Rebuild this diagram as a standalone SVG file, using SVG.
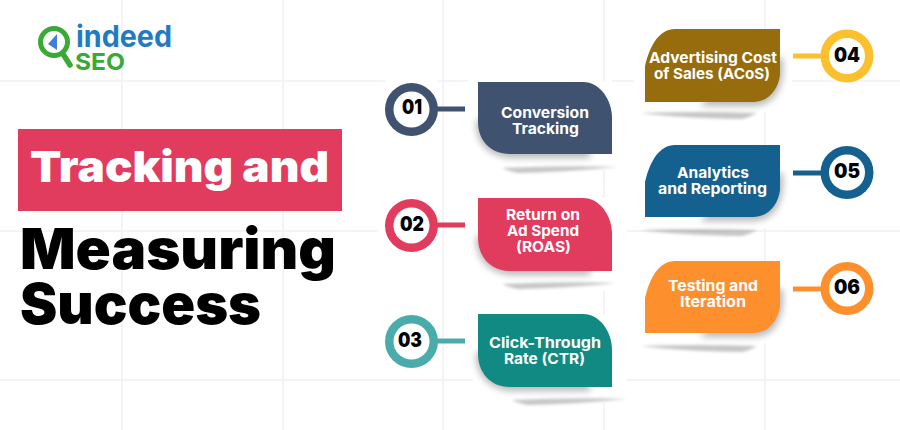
<svg xmlns="http://www.w3.org/2000/svg" width="900" height="430" viewBox="0 0 900 430">
<style>
.grid{stroke:#f1f1f3;stroke-width:1.5;fill:none}
.lbl{font-family:Inter,"Open Sans",sans-serif;font-weight:700;font-size:15px;fill:#fff}
.num{font-family:Inter,"Open Sans",sans-serif;font-weight:900;font-size:20px;fill:#000}
.title{font-family:Inter,"Open Sans",sans-serif;font-weight:900}
.dot{fill:#fff}
.conn{stroke-width:5;fill:none}
.sh{fill:#777;opacity:.42;filter:url(#b)}
.sh2{fill:#000;opacity:.28;filter:url(#b2)}
</style>
<defs>
<filter id="b" x="-20%" y="-200%" width="140%" height="500%"><feGaussianBlur stdDeviation="1.500"/></filter>
<filter id="b2" x="-20%" y="-20%" width="140%" height="140%"><feGaussianBlur stdDeviation="3.500"/></filter>
<path id="ls" d="M24 -2Q85 -5 139 -3Q90 2 40 3Q30 1 24 -2Z"/>
<path id="rs" d="M0 -3Q60 -5 117 -3Q110 1 102 3Q40 2 0 -3Z"/>
</defs>
<rect width="900" height="430" fill="#fff"/>
<g id="grid" class="grid">
<path d="M122 0V430M283 0V430M443 0V430M604 0V81M604 170V198M604 290V314M604 403V430M765 0V29M765 112V145M765 228V262M765 343V430"/>
<path d="M0 81H385M438 81H468M612 81H634M792 81H900M0 231H378M627 231H900M0 380H473M627 380H900"/>
</g>
<g id="logo">
<circle cx="54" cy="42" r="13.500" fill="#fff" stroke="#3aa935" stroke-width="5"/>
<path d="M63 54L70 65" stroke="#3aa935" stroke-width="5.500" stroke-linecap="round"/>
<path d="M48 44L57 34V50Z" fill="#3f7fe0"/>
<text x="76" y="47" font-family="Inter,'Open Sans',sans-serif" font-weight="700" font-size="30" fill="#1f7cc4" textLength="96" lengthAdjust="spacingAndGlyphs">indeed</text>
<text x="75" y="70" font-family="Inter,'Open Sans',sans-serif" font-weight="700" font-size="23.500" fill="#3aa935" textLength="50" lengthAdjust="spacingAndGlyphs">SEO</text>
</g>
<g id="title">
<rect x="18" y="129" width="324" height="82" fill="#e13b5d"/>
<text class="title" x="30" y="182" font-size="43" fill="#fff" textLength="299" lengthAdjust="spacingAndGlyphs">Tracking and</text>
<text class="title" x="20" y="269" font-size="56" fill="#000" textLength="316" lengthAdjust="spacingAndGlyphs">Measuring</text>
<text class="title" x="20" y="324" font-size="56" fill="#000" textLength="241" lengthAdjust="spacingAndGlyphs">Success</text>
</g>
<g id="connectors">
<path class="conn" stroke="#3f5270" d="M436 109H465"/>
<path class="conn" stroke="#e13b5d" d="M436 225H465"/>
<path class="conn" stroke="#4aacaa" d="M436 341H465"/>
<path class="conn" stroke="#fbc02d" d="M793 56H823"/>
<path class="conn" stroke="#14608f" d="M793 173H823"/>
<path class="conn" stroke="#fd8f2c" d="M793 289H823"/>
</g>
<g id="n1">
<use href="#ls" class="sh" transform="translate(478 170)"/>
<path class="sh2" d="M476 110V125Q478 155 510 158H590V120H476Z"/>
<path fill="#3f5270" d="M478 82H583C600 82 612 100 612 118V154H510C490 154 478 140 478 122Z"/>
<circle cx="411.500" cy="109.500" r="26.500" fill="#3f5270"/><circle class="dot" cx="411.500" cy="109.500" r="18"/>
<text class="num" x="402" y="114" textLength="20" lengthAdjust="spacingAndGlyphs">01</text>
<text class="lbl" x="501" y="118" textLength="88" lengthAdjust="spacingAndGlyphs">Conversion</text>
<text class="lbl" x="512" y="134" textLength="67" lengthAdjust="spacingAndGlyphs">Tracking</text>
</g>
<g id="n2">
<use href="#ls" class="sh" transform="translate(478 286)"/>
<path class="sh2" d="M476 226V241Q478 271 510 275H590V236H476Z"/>
<path fill="#e13b5d" d="M478 198H583C600 198 612 216 612 234V271H510C490 271 478 256 478 238Z"/>
<circle cx="411.500" cy="225.500" r="26.500" fill="#e13b5d"/><circle class="dot" cx="411.500" cy="225.500" r="18"/>
<text class="num" x="400" y="231" textLength="24" lengthAdjust="spacingAndGlyphs">02</text>
<text class="lbl" x="506" y="220" textLength="74" lengthAdjust="spacingAndGlyphs">Return on</text>
<text class="lbl" x="507" y="236" textLength="72" lengthAdjust="spacingAndGlyphs">Ad Spend</text>
<text class="lbl" x="516" y="252" textLength="55" lengthAdjust="spacingAndGlyphs">(ROAS)</text>
</g>
<g id="n3">
<use href="#ls" class="sh" transform="translate(488 402)"/>
<path class="sh2" d="M476 342V357Q478 387 510 391H590V352H476Z"/>
<path fill="#118a83" d="M478 314H583C600 314 612 332 612 350V387H510C490 387 478 372 478 354Z"/>
<circle cx="411.500" cy="341.500" r="26.500" fill="#4aacaa"/><circle class="dot" cx="411.500" cy="341.500" r="18"/>
<text class="num" x="398" y="347" textLength="24" lengthAdjust="spacingAndGlyphs">03</text>
<text class="lbl" x="489" y="348" textLength="112" lengthAdjust="spacingAndGlyphs">Click-Through</text>
<text class="lbl" x="504" y="364" textLength="81" lengthAdjust="spacingAndGlyphs">Rate (CTR)</text>
</g>
<g id="n4">
<use href="#rs" class="sh" transform="translate(640 116)"/>
<path class="sh2" d="M700 106H755Q780 104 783 72V58H740Z"/>
<path fill="#966c0c" d="M780 29V75C778 90 768 102 753 102H645V66C650 44 660 29 675 29Z"/>
<circle cx="847" cy="56" r="26.500" fill="#fbc02d"/><circle class="dot" cx="847" cy="56" r="18"/>
<text class="num" x="834" y="62" textLength="26" lengthAdjust="spacingAndGlyphs">04</text>
<text class="lbl" x="649" y="63" textLength="128" lengthAdjust="spacingAndGlyphs">Advertising Cost</text>
<text class="lbl" x="654" y="79" textLength="116" lengthAdjust="spacingAndGlyphs">of Sales (ACoS)</text>
</g>
<g id="n5">
<use href="#rs" class="sh" transform="translate(640 233)"/>
<path class="sh2" d="M700 221H755Q780 219 783 187V173H740Z"/>
<path fill="#14608f" d="M780 145V190C778 205 768 217 753 217H645V182C650 160 660 145 675 145Z"/>
<circle cx="847" cy="172.500" r="26.500" fill="#14608f"/><circle class="dot" cx="847" cy="172.500" r="18"/>
<text class="num" x="834" y="178" textLength="26" lengthAdjust="spacingAndGlyphs">05</text>
<text class="lbl" x="677" y="178" textLength="72" lengthAdjust="spacingAndGlyphs">Analytics</text>
<text class="lbl" x="658" y="194" textLength="109" lengthAdjust="spacingAndGlyphs">and Reporting</text>
</g>
<g id="n6">
<use href="#rs" class="sh" transform="translate(640 349)"/>
<path class="sh2" d="M700 337H755Q780 335 783 303V289H740Z"/>
<path fill="#fd8f2c" d="M780 261V306C778 321 768 333 753 333H645V298C650 276 660 261 675 261Z"/>
<circle cx="847" cy="288.500" r="26.500" fill="#fd8f2c"/><circle class="dot" cx="847" cy="288.500" r="18"/>
<text class="num" x="834" y="294" textLength="26" lengthAdjust="spacingAndGlyphs">06</text>
<text class="lbl" x="668" y="291" textLength="90" lengthAdjust="spacingAndGlyphs">Testing and</text>
<text class="lbl" x="680" y="307" textLength="66" lengthAdjust="spacingAndGlyphs">Iteration</text>
</g>
</svg>
